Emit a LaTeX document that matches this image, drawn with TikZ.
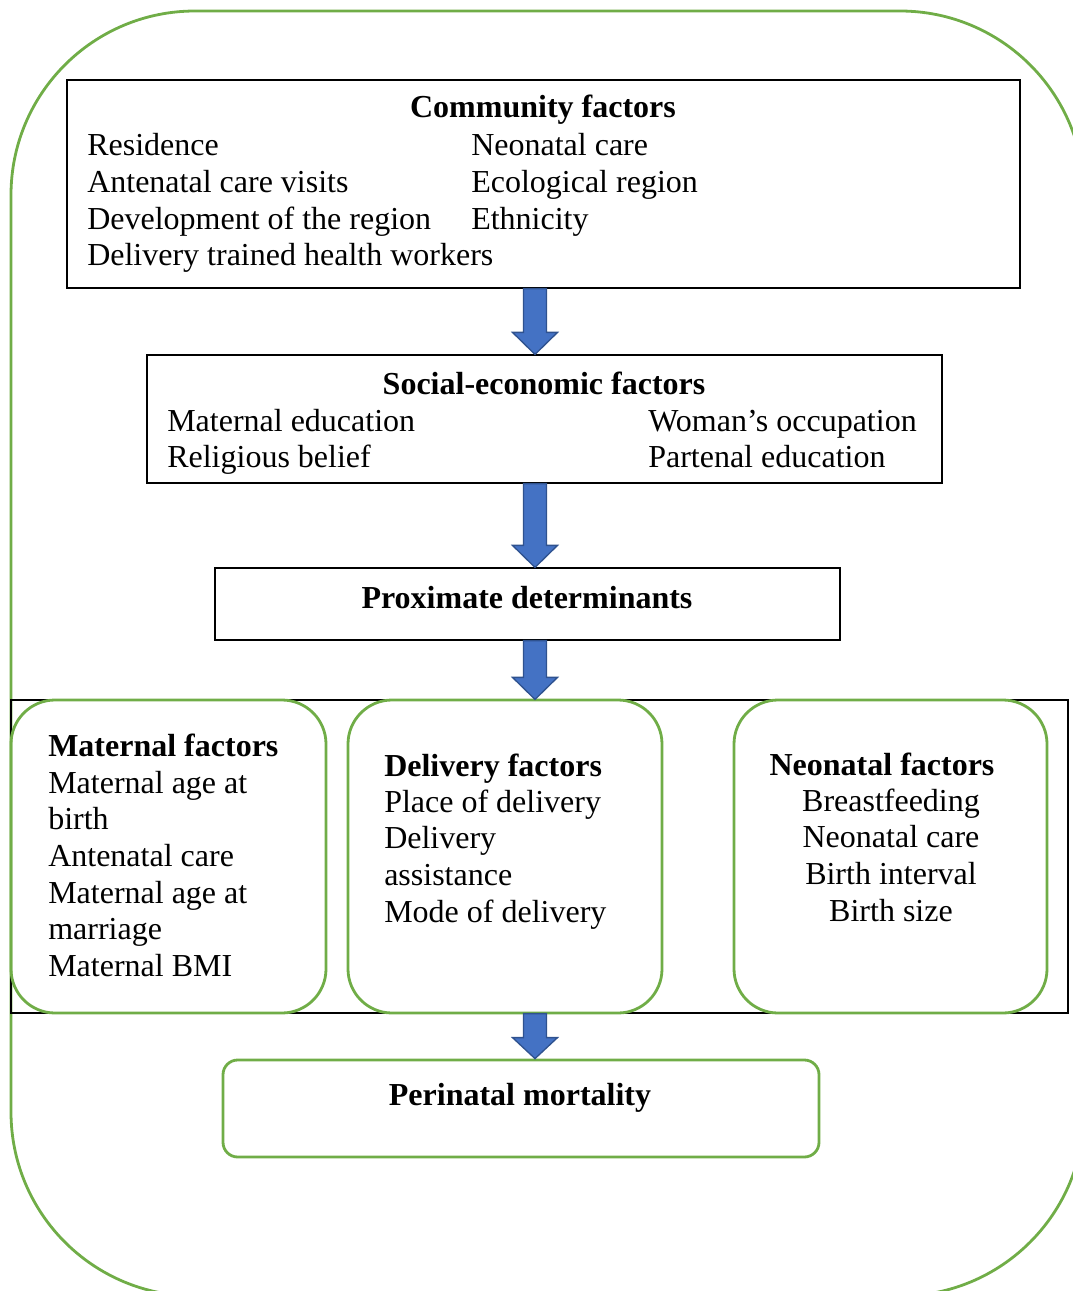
\documentclass[tikz,border=0pt]{standalone}
\usepackage{fontspec}
\setmainfont{Liberation Serif}
\usetikzlibrary{calc,fit}
\definecolor{grn}{HTML}{70AD47}
\definecolor{arrfill}{HTML}{4472C4}
\definecolor{arrdraw}{HTML}{2F528F}
\newcommand\blockarr[3]{%
  \draw[arrowsty] ($(#1)+(-11.5,0)$) -- ($(#1)+(11.5,0)$) -- ($(#2)+(11.5,-#3)$) -- ($(#2)+(22.5,-#3)$) -- (#2) -- ($(#2)+(-22.5,-#3)$) -- ($(#2)+(-11.5,-#3)$) -- cycle;}
\begin{document}
\begin{tikzpicture}[x=0.75pt,y=-0.75pt,
  font=\fontsize{24}{27.5}\selectfont,
  blackbox/.style={draw=black, line width=0.9pt, inner sep=0pt},
  greenbox/.style={draw=grn, line width=2.1pt, inner sep=0pt, rounded corners=#1},
  greenbox/.default=33pt,
  txt/.style={inner sep=0pt, anchor=base west},
  ctxt/.style={inner sep=0pt, anchor=base},
  ttl/.style={inner sep=0pt, anchor=base, font=\fontsize{24}{27.5}\selectfont\bfseries},
  arrowsty/.style={fill=arrfill, draw=arrdraw, line width=1pt, line join=miter}]
\useasboundingbox (0,0) rectangle (1072,1291);
% outer frame
\draw[draw=grn, line width=2.1pt, rounded corners=138pt] (11,11) rectangle (1084,1296);
% community
\node[blackbox, fit={(67,80)(1020,288)}] (comm) {};
\node[ttl] (commT) at (543,118) {Community factors};
\node[txt] (commL) at (87,156) {\begin{tabular}[t]{@{}l@{}}Residence\\Antenatal care visits\\Development of the region\\Delivery trained health workers\end{tabular}};
\node[txt] (commR) at (471,156) {\begin{tabular}[t]{@{}l@{}}Neonatal care\\Ecological region\\Ethnicity\end{tabular}};
% social
\node[blackbox, fit={(147,355)(942,483)}] (soc) {};
\node[ttl] (socT) at (544,394) {Social-economic factors};
\node[txt] (socL) at (167,431) {\begin{tabular}[t]{@{}l@{}}Maternal education\\Religious belief\end{tabular}};
\node[txt] (socR) at (648,431) {\begin{tabular}[t]{@{}l@{}}Woman’s occupation\\Partenal education\end{tabular}};
% proximate
\node[blackbox, fit={(215,568)(840,640)}] (prox) {};
\node[ttl] (proxT) at (527,608) {Proximate determinants};
% factors container
\node[blackbox, fit={(11,700)(1068,1013)}] (fac) {};
\node[greenbox, fit={(11,700)(326,1013)}] (mat) {};
\node[greenbox, fit={(348,700)(662,1013)}] (del) {};
\node[greenbox, fit={(734,700)(1047,1013)}] (neo) {};
\node[txt] (matT) at (48,756) {\bfseries Maternal factors};
\node[txt] (matL) at (48,793) {\begin{tabular}[t]{@{}l@{}}Maternal age at\\birth\\Antenatal care\\Maternal age at\\marriage\\Maternal BMI\end{tabular}};
\node[txt] (delT) at (384,776) {\bfseries Delivery factors};
\node[txt] (delL) at (384,812) {\begin{tabular}[t]{@{}l@{}}Place of delivery\\Delivery\\assistance\\Mode of delivery\end{tabular}};
\node[ttl] (neoT) at (882,775) {Neonatal factors};
\node[ctxt] (neoL) at (891,811) {\begin{tabular}[t]{@{}c@{}}Breastfeeding\\Neonatal care\\Birth interval\\Birth size\end{tabular}};
% perinatal
\node[greenbox=11pt, fit={(223,1060)(819,1157)}] (peri) {};
\node[ttl] (periT) at (520,1105) {Perinatal mortality};
% arrows
\coordinate (a1t) at (535,0 |- comm.south);
\coordinate (a1b) at (535,0 |- soc.north);
\coordinate (a2t) at (535,0 |- soc.south);
\coordinate (a2b) at (535,0 |- prox.north);
\coordinate (a3t) at (535,0 |- prox.south);
\coordinate (a4t) at (535,0 |- fac.north);
\coordinate (a5t) at (535,0 |- fac.south);
\coordinate (a5b) at (535,0 |- peri.north);
\blockarr{a1t}{a1b}{22}
\blockarr{a2t}{a2b}{22}
\blockarr{a3t}{a4t}{22}
\blockarr{a5t}{a5b}{21}
\end{tikzpicture}
\end{document}
